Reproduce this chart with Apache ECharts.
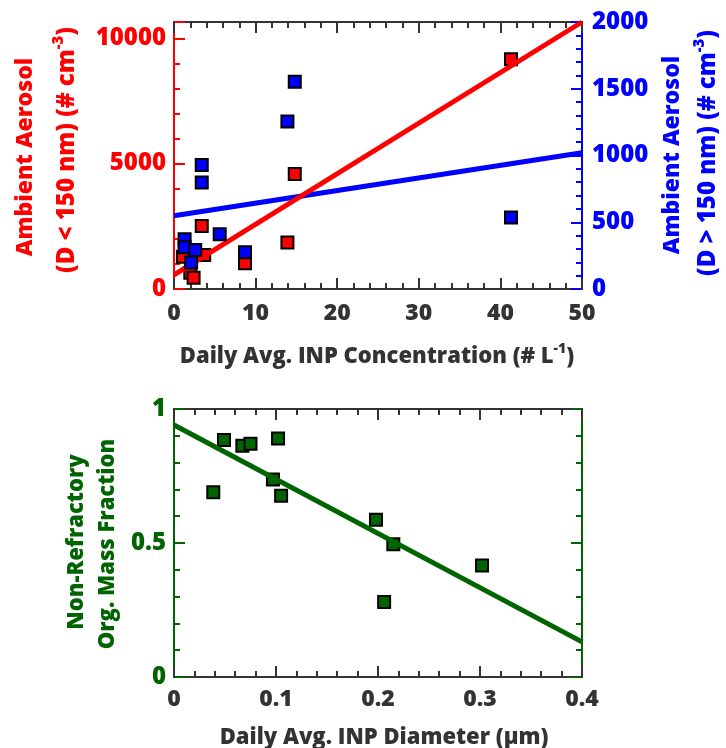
<!DOCTYPE html>
<html>
<head>
<meta charset="utf-8">
<script src="https://cdn.jsdelivr.net/npm/echarts@6/dist/echarts.min.js"></script>
<style>
  html, body { margin: 0; padding: 0; background: #fff; }
  #main { width: 726px; height: 748px; }
</style>
</head>
<body>
<div id="main"></div>
<script>
  // top panel: INP concentration vs aerosol number
  var redX = [1.1, 2.0, 2.4, 3.4, 3.7, 8.7, 13.9, 14.8, 41.3];
  var redY = [1290, 650, 450, 2510, 1360, 1030, 1850, 4590, 9160];
  var blueX = [1.3, 1.3, 2.1, 2.6, 3.4, 3.4, 5.6, 8.7, 13.9, 14.8, 41.3];
  var blueY = [373, 313, 198, 293, 929, 798, 411, 276, 1254, 1552, 535];
  var redFit = [[0, 560], [50, 10650]];
  var blueFit = [[0, 548], [50, 1020]];

  // bottom panel: INP diameter vs organic mass fraction
  var greenX = [0.0385, 0.049, 0.067, 0.075, 0.097, 0.102, 0.105, 0.198, 0.206, 0.215, 0.302];
  var greenY = [0.689, 0.884, 0.863, 0.870, 0.737, 0.890, 0.676, 0.587, 0.280, 0.495, 0.416];
  var greenFit = [[0, 0.94], [0.4, 0.131]];

  var RED = '#ff0000', BLUE = '#0000ff', GREEN = '#006400', DARK = '#333333';
  var FONT = '"Open Sans"';

  function pairs(xs, ys) {
    return xs.map(function (x, i) { return [x, ys[i]]; });
  }

  function lbl(color, extra) {
    var o = { color: color, fontFamily: FONT, fontWeight: 800, fontSize: 23, margin: 8 };
    for (var k in extra) o[k] = extra[k];
    return o;
  }

  function axis(color, extra) {
    var o = {
      type: 'value',
      axisLine: { show: true, onZero: false, lineStyle: { color: color, width: 2 } },
      axisTick: { show: true, inside: true, length: 11, lineStyle: { color: color, width: 2 } },
      minorTick: { show: true, splitNumber: 5, length: 6, lineStyle: { color: color, width: 2 } },
      splitLine: { show: false },
      axisLabel: { show: false }
    };
    for (var k in extra) o[k] = extra[k];
    return o;
  }

  var plain = function (v) { return String(v); };

  function title(x, y, rot, parts, color, size) {
    // parts: main text, optional superscript, optional tail
    var txt = '{b|' + parts[0] + '}' + (parts[1] ? '{s|' + parts[1] + '}{b|' + parts[2] + '}' : '');
    return { type: 'text', x: x, y: y, rotation: rot,
      style: { text: txt, fill: color, align: 'center', verticalAlign: 'middle',
        rich: { b: { fontFamily: FONT, fontWeight: 800, fontSize: size, fill: color, lineHeight: size + 8 },
                s: { fontFamily: FONT, fontWeight: 800, fontSize: Math.round(size * 0.62), fill: color,
                     verticalAlign: 'top', lineHeight: size + 8 } } } };
  }

  var myChart = echarts.init(document.getElementById('main'));

  var option = {
    animation: false,
    backgroundColor: '#fff',
    grid: [
      { left: 174, top: 22, width: 408, height: 267, show: true, borderColor: DARK, borderWidth: 2 },
      { left: 174, top: 409, width: 408, height: 268, show: true, borderColor: DARK, borderWidth: 2 }
    ],
    xAxis: [
      axis(DARK, { gridIndex: 0, min: 0, max: 50, interval: 10, position: 'bottom',
        axisLabel: lbl(DARK, { margin: 13 }) }),
      axis(DARK, { gridIndex: 0, min: 0, max: 50, interval: 10, position: 'top' }),
      axis(DARK, { gridIndex: 1, min: 0, max: 0.4, interval: 0.1, position: 'bottom',
        axisLabel: lbl(DARK, { margin: 11 }) }),
      axis(DARK, { gridIndex: 1, min: 0, max: 0.4, interval: 0.1, position: 'top' })
    ],
    yAxis: [
      axis(RED, { gridIndex: 0, min: 0, max: 10650, interval: 5000, position: 'left',
        axisLabel: lbl(RED, { fontSize: 24, formatter: function (v) { return v % 5000 === 0 ? String(v) : ''; } }) }),
      axis(BLUE, { gridIndex: 0, min: 0, max: 2000, interval: 500, position: 'right',
        axisLabel: lbl(BLUE, { fontSize: 24, margin: 10, formatter: plain }) }),
      axis(GREEN, { gridIndex: 1, min: 0, max: 1, interval: 0.5, position: 'left',
        axisLabel: lbl(GREEN, { fontSize: 24, formatter: plain }) }),
      axis(GREEN, { gridIndex: 1, min: 0, max: 1, interval: 0.5, position: 'right' })
    ],
    series: [
      { type: 'line', xAxisIndex: 0, yAxisIndex: 1, data: blueFit, symbol: 'none',
        lineStyle: { color: BLUE, width: 5 }, z: 2 },
      { type: 'scatter', xAxisIndex: 0, yAxisIndex: 0, data: pairs(redX, redY), symbol: 'rect', symbolSize: 12,
        itemStyle: { color: RED, borderColor: '#000', borderWidth: 2, opacity: 1 }, z: 3 },
      { type: 'line', xAxisIndex: 0, yAxisIndex: 0, data: redFit, symbol: 'none',
        lineStyle: { color: RED, width: 5 }, z: 4 },
      { type: 'scatter', xAxisIndex: 0, yAxisIndex: 1, data: pairs(blueX, blueY), symbol: 'rect', symbolSize: 12,
        itemStyle: { color: BLUE, borderColor: '#000', borderWidth: 2, opacity: 1 }, z: 5 },
      { type: 'scatter', xAxisIndex: 2, yAxisIndex: 2, data: pairs(greenX, greenY), symbol: 'rect', symbolSize: 12,
        itemStyle: { color: GREEN, borderColor: '#000', borderWidth: 2, opacity: 1 }, z: 3 },
      { type: 'line', xAxisIndex: 2, yAxisIndex: 2, data: greenFit, symbol: 'none',
        lineStyle: { color: GREEN, width: 5 }, z: 4 }
    ],
    graphic: [
      title(377, 357, 0, ['Daily Avg. INP Concentration (# L', '-1', ')'], DARK, 22),
      title(384, 738, 0, ['Daily Avg. INP Diameter (µm)'], DARK, 22),
      title(25, 157, Math.PI / 2, ['Ambient Aerosol'], RED, 23),
      title(67, 150, Math.PI / 2, ['(D < 150 nm) (# cm', '-3', ')'], RED, 24),
      title(672, 155, Math.PI / 2, ['Ambient Aerosol'], BLUE, 23),
      title(708, 153, Math.PI / 2, ['(D > 150 nm) (# cm', '-3', ')'], BLUE, 24),
      title(77, 542, Math.PI / 2, ['Non-Refractory'], GREEN, 22),
      title(108, 544, Math.PI / 2, ['Org. Mass Fraction'], GREEN, 22)
    ]
  };

  myChart.setOption(option);
</script>
</body>
</html>
